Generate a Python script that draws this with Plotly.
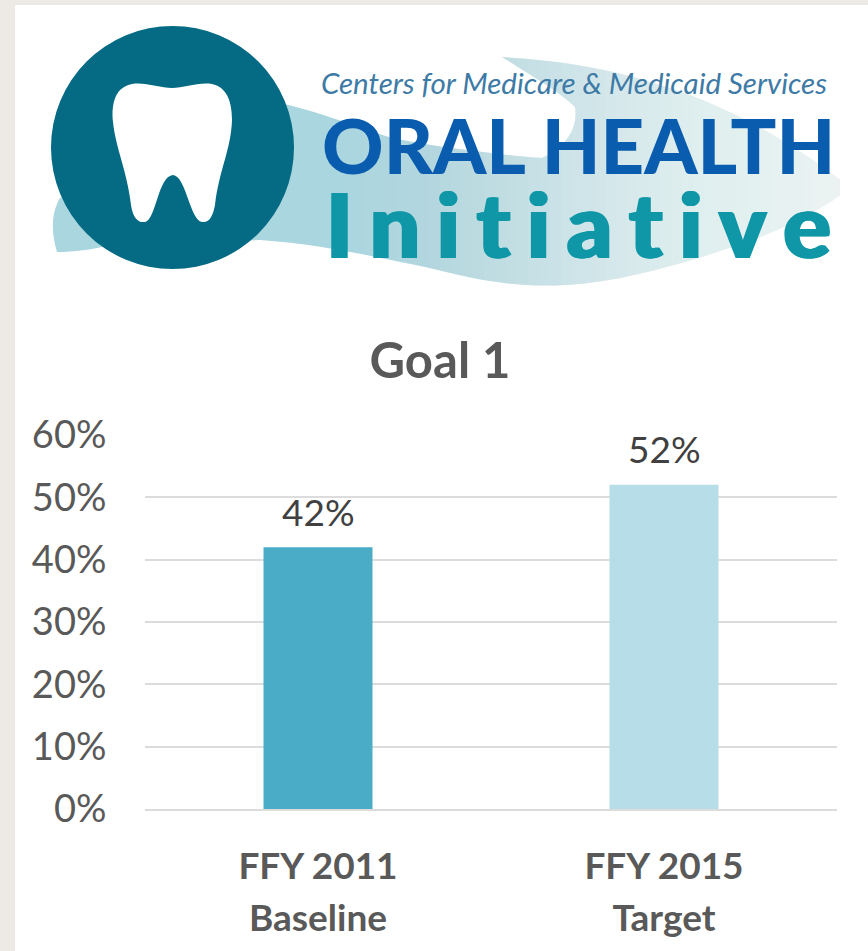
import plotly.graph_objects as go

WIDTH, HEIGHT = 868, 951

# Chart data
categories = ["FFY 2011", "FFY 2015"]
sublabels = ["Baseline", "Target"]
values = [42, 52]
bar_colors = ["#4aacc6", "#b7dde8"]
tick_values = [0, 10, 20, 30, 40, 50, 60]

TEXT = "#595959"
FONT = "Lato, Carlito, sans-serif"
WORD_TEAL = "#0f97a7"


def fx(x):
    return x / WIDTH


def fy(y):
    return 1 - y / HEIGHT


def path(*segments):
    """Build an SVG path in paper coordinates from (command, x, y, ...) pixel tuples."""
    parts = []
    for seg in segments:
        cmd, nums = seg[0], seg[1:]
        coords = [
            f"{fx(nums[i]):.5f},{fy(nums[i + 1]):.5f}" for i in range(0, len(nums), 2)
        ]
        parts.append(cmd + " ".join(coords))
    return " ".join(parts) + " Z"


def paper_shape(d, color):
    return dict(type="path", xref="paper", yref="paper", path=d,
                fillcolor=color, line_width=0, layer="below")


# Logo artwork: a wave behind the wordmark, the round badge and the tooth
wave = path(
    ("M", 60, 198),
    ("C", 50, 215, 52, 235, 57, 252),
    ("C", 75, 252, 90, 250, 110, 245),
    ("L", 260, 240),
    ("C", 300, 243, 330, 247, 425, 267),
    ("C", 470, 278, 510, 288, 565, 285),
    ("C", 620, 282, 680, 265, 753, 240),
    ("C", 790, 225, 820, 210, 840, 195),
    ("L", 840, 180),
    ("C", 790, 140, 716, 100, 650, 82),
    ("C", 600, 66, 550, 60, 502, 57),
    ("C", 530, 75, 560, 92, 575, 107),
    ("C", 578, 125, 570, 145, 542, 158),
    ("C", 500, 155, 420, 145, 389, 137),
    ("C", 360, 128, 320, 112, 280, 103),
)
tooth = path(
    ("M", 172, 88),
    ("C", 160, 88, 145, 82, 132, 84),
    ("C", 116, 87, 111, 102, 113, 122),
    ("C", 116, 150, 127, 170, 131, 205),
    ("C", 133, 218, 138, 223, 145, 222),
    ("C", 156, 220, 158, 176, 173, 175),
    ("C", 186, 176, 190, 220, 202, 222),
    ("C", 210, 223, 213, 215, 215, 205),
    ("C", 219, 170, 231, 150, 232, 120),
    ("C", 232, 100, 226, 87, 212, 84),
    ("C", 198, 82, 184, 88, 172, 88),
)

shapes = [
    # Slide background edges
    dict(type="rect", xref="paper", yref="paper", x0=0, x1=fx(15), y0=0, y1=1,
         fillcolor="#edeae6", line_width=0, layer="below"),
    dict(type="rect", xref="paper", yref="paper", x0=0, x1=1, y0=fy(5), y1=1,
         fillcolor="#edeae6", line_width=0, layer="below"),
    paper_shape(wave, "#a9d6df"),
]

# The wave fades to white towards the right: stacked translucent white strips
for step in range(48):
    shapes.append(
        dict(type="rect", xref="paper", yref="paper",
             x0=fx(330 + step * 11), x1=fx(850), y0=fy(300), y1=fy(40),
             fillcolor="#ffffff", opacity=0.015 + 0.00125 * step,
             line_width=0, layer="below")
    )

shapes += [
    dict(type="circle", xref="paper", yref="paper",
         x0=fx(51), x1=fx(294), y0=fy(269), y1=fy(26),
         fillcolor="#056a83", line_width=0, layer="below"),
    paper_shape(tooth, "#ffffff"),
]

annotations = [
    dict(text="<i>Centers for Medicare &amp; Medicaid Services</i>",
         x=fx(574), y=fy(82), font=dict(size=29.5, color="#3d7aa6", family=FONT)),
    dict(text="ORAL HEALTH",
         x=fx(578), y=fy(145),
         font=dict(size=76, color="#0a5cae", family=FONT, weight=900)),
    dict(text="I\u2009\u200an\u2009\u200ai\u2009\u200at\u2009\u200ai\u2009\u200aa\u2009\u200at\u2009\u200ai\u2009\u200av\u2009\u200ae",
         x=fx(578), y=fy(224),
         font=dict(size=89, color=WORD_TEAL, family=FONT, weight=900,
                   shadow=f"1.5px 0 0 {WORD_TEAL}, -1.5px 0 0 {WORD_TEAL}")),
]
for a in annotations:
    a.update(xref="paper", yref="paper", xanchor="center", yanchor="middle",
             showarrow=False)

# Value labels sit a fixed distance above each bar
for c, v in zip(categories, values):
    annotations.append(
        dict(text=f"{v}%", x=c, y=v, xref="x", yref="y", yanchor="middle",
             yshift=36, showarrow=False,
             font=dict(size=37, color="#404040", family=FONT))
    )

tick_text = [
    f"<span style='font-size:37px'><b>{c}</b></span><br>"
    f"<span style='font-size:37px'><b>{s}</b></span>"
    for c, s in zip(categories, sublabels)
]

fig = go.Figure(
    go.Bar(
        x=categories,
        y=values,
        width=0.315,
        marker=dict(color=bar_colors, line_width=0),
    )
)

fig.update_layout(
    width=WIDTH,
    height=HEIGHT,
    margin=dict(l=0, r=0, t=0, b=0),
    paper_bgcolor="#ffffff",
    plot_bgcolor="rgba(0,0,0,0)",
    showlegend=False,
    font=dict(family=FONT, color=TEXT),
    title=dict(text="<b>Goal 1</b>", x=fx(440), y=fy(361), xref="paper", yref="paper",
               xanchor="center", yanchor="middle",
               font=dict(size=49, color=TEXT, family=FONT)),
    shapes=shapes,
    annotations=annotations,
    xaxis=dict(
        domain=[fx(145), fx(837)],
        automargin=False,
        tickmode="array",
        tickvals=categories,
        ticktext=tick_text,
        tickfont=dict(size=40, color=TEXT, family=FONT),
        ticks="outside",
        ticklen=20,
        tickcolor="rgba(0,0,0,0)",
        showgrid=False,
        showline=True,
        linecolor="#dcdcdc",
        linewidth=2,
        zeroline=False,
    ),
    yaxis=dict(
        domain=[fy(809), fy(435)],
        automargin=False,
        range=[0, 60],
        tickmode="array",
        tickvals=tick_values,
        ticktext=[f"{t}%" for t in tick_values],
        tickfont=dict(size=38, color=TEXT, family=FONT),
        ticks="outside",
        ticklen=30,
        tickcolor="rgba(0,0,0,0)",
        gridcolor="#dcdcdc",
        gridwidth=2,
        zeroline=False,
    ),
)

fig.write_html("out.html")
